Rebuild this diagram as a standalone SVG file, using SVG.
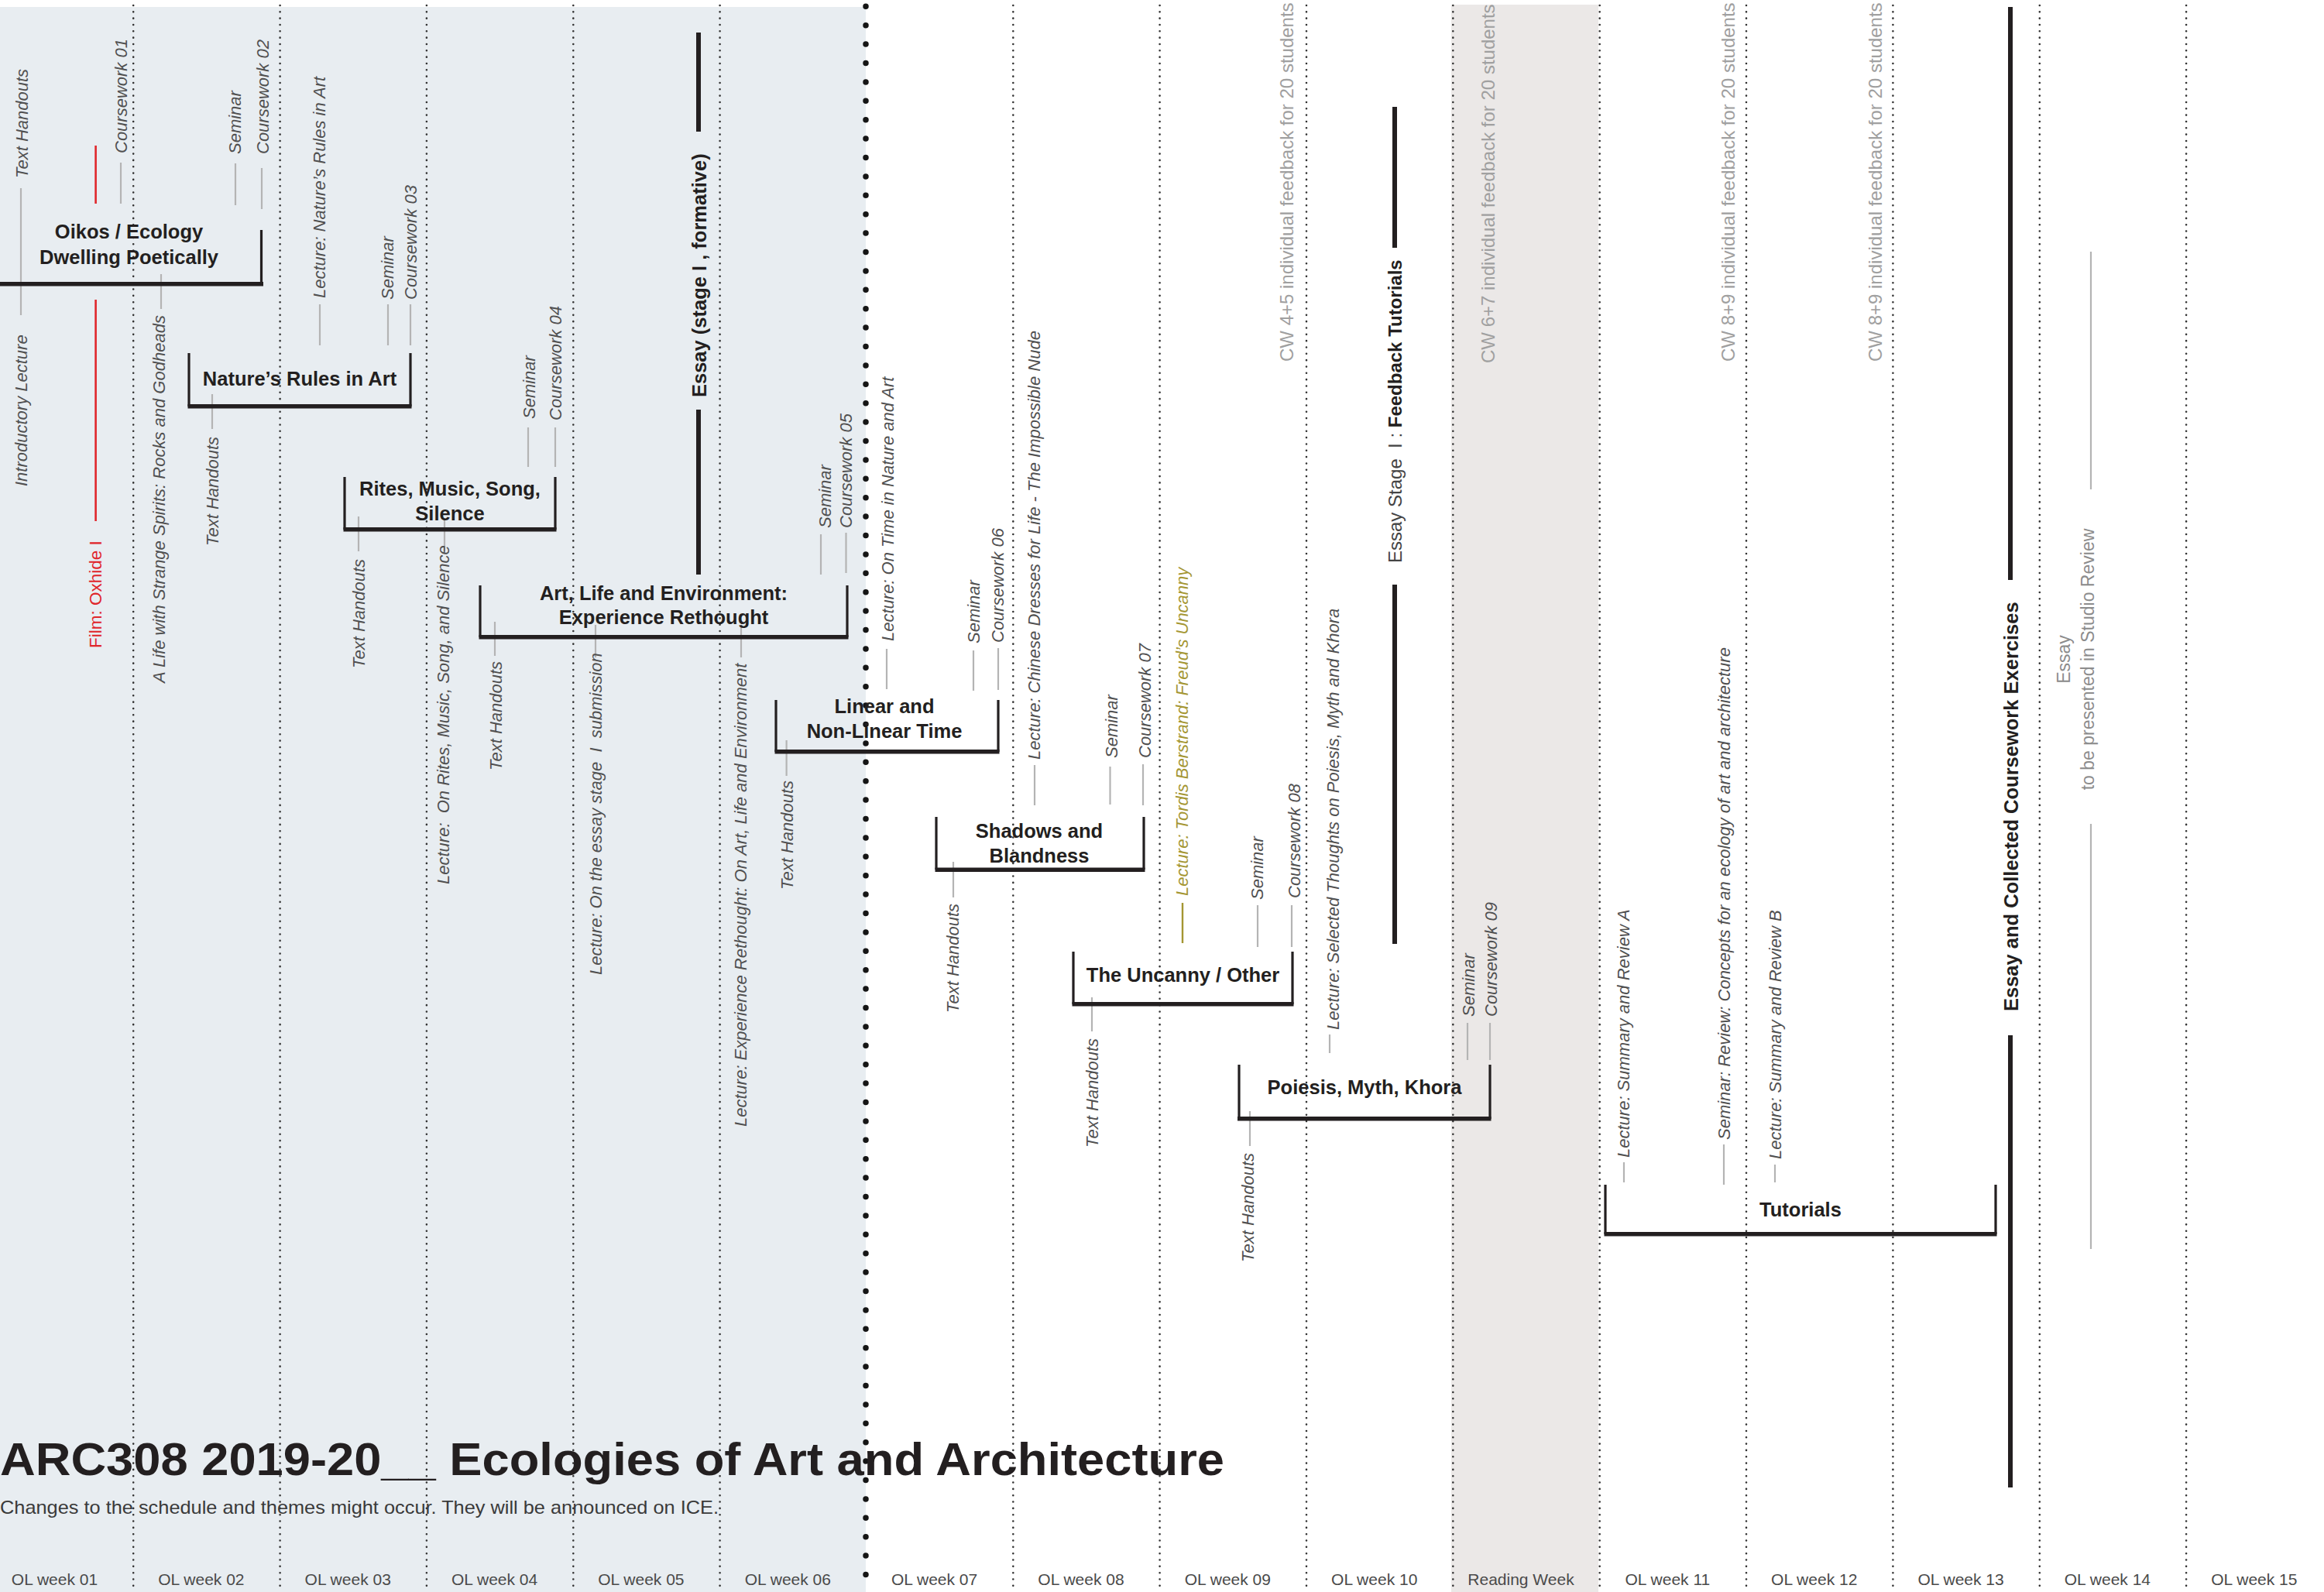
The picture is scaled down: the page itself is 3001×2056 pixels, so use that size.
<svg xmlns="http://www.w3.org/2000/svg" width="3001" height="2056" viewBox="0 0 3001 2056">
<style>
.dot{stroke:#333;stroke-width:2.6;stroke-linecap:round;stroke-dasharray:0 8.33;fill:none}
.bigdot{stroke:#151515;stroke-width:7.5;stroke-linecap:round;stroke-dasharray:0 24.4;fill:none}
.con{stroke:#b4b4b4;stroke-width:2.2;fill:none}
.red{stroke:#e0262b;stroke-width:2.6;fill:none}
.olive{stroke:#a49632;stroke-width:2.4;fill:none}
.thick{stroke:#231f20;stroke-width:6;fill:none}
.br{stroke:#231f20;stroke-width:3.2;fill:none}
.bar{fill:#231f20}
.lbl{font-family:"Liberation Sans",Arial,sans-serif;font-style:italic;font-size:22px;fill:#505050}
.nt{font-family:"Liberation Sans",Arial,sans-serif;font-weight:bold;font-size:25.5px;fill:#231f20;text-anchor:middle}
.bt{font-family:"Liberation Sans",Arial,sans-serif;font-weight:bold;font-size:25.5px;fill:#231f20}
.cw{font-family:"Liberation Sans",Arial,sans-serif;font-size:24px;fill:#a0a0a0}
.wk{font-family:"Liberation Sans",Arial,sans-serif;font-size:21px;fill:#4a4a4a;text-anchor:middle}
</style>
<rect width="3001" height="2056" fill="#ffffff"/>
<rect id="bg-first-half" x="0" y="9" width="1118" height="2047" fill="#e8edf1"/>
<rect id="bg-reading-week" x="1874" y="6" width="190" height="2050" fill="#ebe8e7"/>
<g id="grid">
<line class="dot" x1="172.2" y1="7" x2="172.2" y2="2056"/>
<line class="dot" x1="361.6" y1="7" x2="361.6" y2="2056"/>
<line class="dot" x1="550.9" y1="7" x2="550.9" y2="2056"/>
<line class="dot" x1="740.3" y1="7" x2="740.3" y2="2056"/>
<line class="dot" x1="929.6" y1="7" x2="929.6" y2="2056"/>
<line class="bigdot" x1="1118" y1="8.3" x2="1118" y2="2056"/>
<line class="dot" x1="1308.3" y1="7" x2="1308.3" y2="2056"/>
<line class="dot" x1="1497.6" y1="7" x2="1497.6" y2="2056"/>
<line class="dot" x1="1687" y1="7" x2="1687" y2="2056"/>
<line class="dot" x1="1876.3" y1="7" x2="1876.3" y2="2056"/>
<line class="dot" x1="2065.7" y1="7" x2="2065.7" y2="2056"/>
<line class="dot" x1="2255" y1="7" x2="2255" y2="2056"/>
<line class="dot" x1="2444.4" y1="7" x2="2444.4" y2="2056"/>
<line class="dot" x1="2633.8" y1="7" x2="2633.8" y2="2056"/>
<line class="dot" x1="2823.1" y1="7" x2="2823.1" y2="2056"/>
</g>
<g id="connectors">
<line class="con" x1="27" y1="243" x2="27" y2="407"/>
<line class="red" x1="123.6" y1="188" x2="123.6" y2="263"/>
<line class="red" x1="123.6" y1="387" x2="123.6" y2="673"/>
<line class="con" x1="156" y1="210" x2="156" y2="263"/>
<line class="con" x1="208" y1="354" x2="208" y2="399"/>
<line class="con" x1="304" y1="211" x2="304" y2="265"/>
<line class="con" x1="338" y1="217" x2="338" y2="270"/>
<line class="con" x1="274" y1="509" x2="274" y2="554"/>
<line class="con" x1="413" y1="393" x2="413" y2="446"/>
<line class="con" x1="501" y1="393" x2="501" y2="446"/>
<line class="con" x1="530" y1="393" x2="530" y2="446"/>
<line class="con" x1="463" y1="667" x2="463" y2="712"/>
<line class="con" x1="574" y1="672" x2="574" y2="712"/>
<line class="con" x1="682" y1="552" x2="682" y2="603"/>
<line class="con" x1="717" y1="552" x2="717" y2="603"/>
<line class="con" x1="639" y1="803" x2="639" y2="847"/>
<line class="con" x1="769" y1="807" x2="769" y2="849"/>
<line class="con" x1="957" y1="810" x2="957" y2="849"/>
<line class="con" x1="1060" y1="690" x2="1060" y2="742"/>
<line class="con" x1="1092.5" y1="688" x2="1092.5" y2="740"/>
<line class="con" x1="1145" y1="838" x2="1145" y2="890"/>
<line class="con" x1="1015.6" y1="956" x2="1015.6" y2="1002"/>
<line class="con" x1="1257" y1="840" x2="1257" y2="892"/>
<line class="con" x1="1289" y1="837" x2="1289" y2="891"/>
<line class="con" x1="1336" y1="988" x2="1336" y2="1040"/>
<line class="con" x1="1231" y1="1113" x2="1231" y2="1159"/>
<line class="con" x1="1433.5" y1="990" x2="1433.5" y2="1039"/>
<line class="con" x1="1476" y1="987" x2="1476" y2="1040"/>
<line class="olive" x1="1527" y1="1166" x2="1527" y2="1218"/>
<line class="con" x1="1410" y1="1288" x2="1410" y2="1332"/>
<line class="con" x1="1624" y1="1169" x2="1624" y2="1223"/>
<line class="con" x1="1668" y1="1169" x2="1668" y2="1223"/>
<line class="con" x1="1717" y1="1336" x2="1717" y2="1360"/>
<line class="con" x1="1614" y1="1435" x2="1614" y2="1480"/>
<line class="con" x1="1895" y1="1321" x2="1895" y2="1369"/>
<line class="con" x1="1924" y1="1321" x2="1924" y2="1369"/>
<line class="con" x1="2097" y1="1501" x2="2097" y2="1527"/>
<line class="con" x1="2226" y1="1478" x2="2226" y2="1530"/>
<line class="con" x1="2292" y1="1504" x2="2292" y2="1527"/>
<line class="con" x1="2700" y1="325" x2="2700" y2="632"/>
<line class="con" x1="2700" y1="1064" x2="2700" y2="1613"/>
<line class="thick" x1="902" y1="42" x2="902" y2="170"/>
<line class="thick" x1="902" y1="529" x2="902" y2="742"/>
<line class="thick" x1="1801" y1="138" x2="1801" y2="320"/>
<line class="thick" x1="1801" y1="755" x2="1801" y2="1219"/>
<line class="thick" x1="2596" y1="9" x2="2596" y2="749"/>
<line class="thick" x1="2596" y1="1337" x2="2596" y2="1921"/>
</g>
<g id="labels">
<text class="lbl" transform="translate(36,230) rotate(-90)">Text Handouts</text>
<text class="lbl" transform="translate(35,628) rotate(-90)">Introductory Lecture</text>
<text transform="translate(131,837) rotate(-90)" font-family="Liberation Sans, Arial, sans-serif" font-size="22.5" fill="#e0262b">Film: Oxhide I</text>
<text class="lbl" transform="translate(164,198) rotate(-90)">Coursework 01</text>
<text class="lbl" transform="translate(213,882) rotate(-90)">A Life with Strange Spirits: Rocks and Godheads</text>
<text class="lbl" transform="translate(311,199) rotate(-90)">Seminar</text>
<text class="lbl" transform="translate(347,199) rotate(-90)">Coursework 02</text>
<text class="lbl" transform="translate(282,705) rotate(-90)">Text Handouts</text>
<text class="lbl" transform="translate(420,385) rotate(-90)">Lecture: Nature’s Rules in Art</text>
<text class="lbl" transform="translate(508,387) rotate(-90)">Seminar</text>
<text class="lbl" transform="translate(538,387) rotate(-90)">Coursework 03</text>
<text class="lbl" transform="translate(471,863) rotate(-90)">Text Handouts</text>
<text class="lbl" transform="translate(580,1142) rotate(-90)" xml:space="preserve">Lecture:  On Rites, Music, Song, and Silence</text>
<text class="lbl" transform="translate(691,541) rotate(-90)">Seminar</text>
<text class="lbl" transform="translate(725,543) rotate(-90)">Coursework 04</text>
<text class="lbl" transform="translate(648,995) rotate(-90)">Text Handouts</text>
<text class="lbl" transform="translate(777,1259) rotate(-90)" xml:space="preserve">Lecture: On the essay stage  I  submission</text>
<text class="lbl" transform="translate(964,1455) rotate(-90)">Lecture: Experience Rethought: On Art, Life and Environment</text>
<text class="lbl" transform="translate(1073,682) rotate(-90)">Seminar</text>
<text class="lbl" transform="translate(1100,682) rotate(-90)">Coursework 05</text>
<text class="lbl" transform="translate(1154,828) rotate(-90)">Lecture: On Time in Nature and Art</text>
<text class="lbl" transform="translate(1024,1149) rotate(-90)">Text Handouts</text>
<text class="lbl" transform="translate(1265,831) rotate(-90)">Seminar</text>
<text class="lbl" transform="translate(1296,830) rotate(-90)">Coursework 06</text>
<text class="lbl" transform="translate(1343,981) rotate(-90)">Lecture: Chinese Dresses for Life - The Impossible Nude</text>
<text class="lbl" transform="translate(1238,1308) rotate(-90)">Text Handouts</text>
<text class="lbl" transform="translate(1443,979) rotate(-90)">Seminar</text>
<text class="lbl" transform="translate(1486,979) rotate(-90)">Coursework 07</text>
<text class="lbl" transform="translate(1534,1157) rotate(-90)" style="fill:#a49632">Lecture: Tordis Berstrand: Freud’s Uncanny</text>
<text class="lbl" transform="translate(1418,1482) rotate(-90)">Text Handouts</text>
<text class="lbl" transform="translate(1631,1162) rotate(-90)">Seminar</text>
<text class="lbl" transform="translate(1679,1160) rotate(-90)">Coursework 08</text>
<text class="lbl" transform="translate(1729,1330) rotate(-90)">Lecture: Selected Thoughts on Poiesis, Myth and Khora</text>
<text class="lbl" transform="translate(1619,1630) rotate(-90)">Text Handouts</text>
<text class="lbl" transform="translate(1904,1313) rotate(-90)">Seminar</text>
<text class="lbl" transform="translate(1933,1313) rotate(-90)">Coursework 09</text>
<text class="lbl" transform="translate(2104,1495) rotate(-90)">Lecture: Summary and Review A</text>
<text class="lbl" transform="translate(2234,1472) rotate(-90)">Seminar: Review: Concepts for an ecology of art and architecture</text>
<text class="lbl" transform="translate(2300,1497) rotate(-90)">Lecture: Summary and Review B</text>
<text class="cw" transform="translate(1670,467) rotate(-90)">CW 4+5 individual feedback for 20 students</text>
<text class="cw" transform="translate(1930,469) rotate(-90)">CW 6+7 individual feedback for 20 students</text>
<text class="cw" transform="translate(2240,467) rotate(-90)">CW 8+9 individual feedback for 20 students</text>
<text class="cw" transform="translate(2430,467) rotate(-90)">CW 8+9 individual feedback for 20 students</text>
<text class="bt" transform="translate(912,513) rotate(-90)">Essay (stage I , formative)</text>
<text transform="translate(1810,727) rotate(-90)" font-family="Liberation Sans, Arial, sans-serif" font-size="24" fill="#444" xml:space="preserve">Essay Stage  I : <tspan font-weight="bold" fill="#231f20">Feedback Tutorials</tspan></text>
<text class="bt" transform="translate(2606,1306) rotate(-90)">Essay and Collected Coursework Exercises</text>
<text transform="translate(2673,851.5) rotate(-90)" font-family="Liberation Sans, Arial, sans-serif" font-size="23" fill="#8c8c8c" text-anchor="middle">Essay</text>
<text transform="translate(2704,851.5) rotate(-90)" font-family="Liberation Sans, Arial, sans-serif" font-size="23" fill="#8c8c8c" text-anchor="middle">to be presented in Studio Review</text>
</g>
<g id="n-oikos">
<rect class="bar" x="0" y="364" width="340" height="5.5"/>
<line class="br" x1="337.5" y1="297" x2="337.5" y2="367"/>
<text class="nt" x="166.5" y="308">Oikos / Ecology</text>
<text class="nt" x="166.5" y="341">Dwelling Poetically</text>
</g>
<g id="n-nature">
<rect class="bar" x="242.5" y="522" width="289" height="5.5"/>
<line class="br" x1="244" y1="456" x2="244" y2="525"/>
<line class="br" x1="530" y1="456" x2="530" y2="525"/>
<text class="nt" x="387" y="498">Nature’s Rules in Art</text>
</g>
<g id="n-rites">
<rect class="bar" x="443.5" y="681" width="275" height="5.5"/>
<line class="br" x1="445" y1="616" x2="445" y2="684"/>
<line class="br" x1="717" y1="616" x2="717" y2="684"/>
<text class="nt" x="581" y="640">Rites, Music, Song,</text>
<text class="nt" x="581" y="672">Silence</text>
</g>
<g id="n-artlife">
<rect class="bar" x="618.5" y="820" width="477" height="5.5"/>
<line class="br" x1="620" y1="756" x2="620" y2="823"/>
<line class="br" x1="1094" y1="756" x2="1094" y2="823"/>
<text class="nt" x="857" y="775">Art, Life and Environment:</text>
<text class="nt" x="857" y="806">Experience Rethought</text>
</g>
<g id="n-linear">
<rect class="bar" x="1000.5" y="968" width="290" height="5.5"/>
<line class="br" x1="1002" y1="904" x2="1002" y2="971"/>
<line class="br" x1="1289" y1="904" x2="1289" y2="971"/>
<text class="nt" x="1142" y="921">Linear and</text>
<text class="nt" x="1142" y="953">Non-Linear Time</text>
</g>
<g id="n-shadows">
<rect class="bar" x="1207.5" y="1120.5" width="271" height="5.5"/>
<line class="br" x1="1209" y1="1055" x2="1209" y2="1123"/>
<line class="br" x1="1477" y1="1055" x2="1477" y2="1123"/>
<text class="nt" x="1342" y="1082">Shadows and</text>
<text class="nt" x="1342" y="1114">Blandness</text>
</g>
<g id="n-uncanny">
<rect class="bar" x="1384.5" y="1294" width="286" height="5.5"/>
<line class="br" x1="1386" y1="1229" x2="1386" y2="1297"/>
<line class="br" x1="1669" y1="1229" x2="1669" y2="1297"/>
<text class="nt" x="1527.5" y="1267.5">The Uncanny / Other</text>
</g>
<g id="n-poiesis">
<rect class="bar" x="1598" y="1442" width="327.5" height="5.5"/>
<line class="br" x1="1600" y1="1375" x2="1600" y2="1445"/>
<line class="br" x1="1924" y1="1375" x2="1924" y2="1445"/>
<text class="nt" x="1762" y="1412.5">Poiesis, Myth, Khora</text>
</g>
<g id="n-tutorials">
<rect class="bar" x="2071.5" y="1591" width="507" height="5.5"/>
<line class="br" x1="2073" y1="1530" x2="2073" y2="1594"/>
<line class="br" x1="2577" y1="1530" x2="2577" y2="1594"/>
<text class="nt" x="2325" y="1571">Tutorials</text>
</g>
<g id="title">
<text x="0" y="1905" font-family="Liberation Sans, Arial, sans-serif" font-weight="bold" font-size="60" fill="#231f20" textLength="1581" lengthAdjust="spacingAndGlyphs">ARC308 2019-20__ Ecologies of Art and Architecture</text>
<text x="0" y="1955" font-family="Liberation Sans, Arial, sans-serif" font-size="24" fill="#3a3a3a" textLength="928" lengthAdjust="spacingAndGlyphs">Changes to the schedule and themes might occur. They will be announced on ICE.</text>
</g>
<g id="weeks">
<text class="wk" x="70.5" y="2047">OL week 01</text>
<text class="wk" x="259.9" y="2047">OL week 02</text>
<text class="wk" x="449.2" y="2047">OL week 03</text>
<text class="wk" x="638.6" y="2047">OL week 04</text>
<text class="wk" x="827.9" y="2047">OL week 05</text>
<text class="wk" x="1017.3" y="2047">OL week 06</text>
<text class="wk" x="1206.6" y="2047">OL week 07</text>
<text class="wk" x="1396" y="2047">OL week 08</text>
<text class="wk" x="1585.3" y="2047">OL week 09</text>
<text class="wk" x="1774.7" y="2047">OL week 10</text>
<text class="wk" x="1964" y="2047">Reading Week</text>
<text class="wk" x="2153.4" y="2047">OL week 11</text>
<text class="wk" x="2342.7" y="2047">OL week 12</text>
<text class="wk" x="2532.1" y="2047">OL week 13</text>
<text class="wk" x="2721.4" y="2047">OL week 14</text>
<text class="wk" x="2910.8" y="2047">OL week 15</text>
</g>
</svg>
